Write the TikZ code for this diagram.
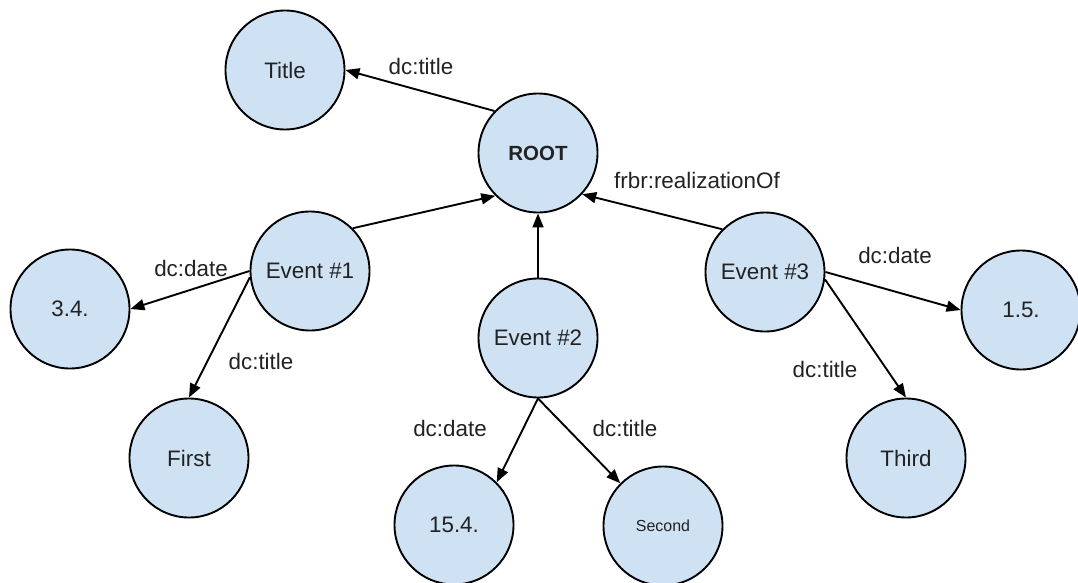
\documentclass[tikz,border=0pt]{standalone}
\usepackage{fontspec}
\setmainfont{Liberation Sans}
\usetikzlibrary{arrows.meta}
\definecolor{nodeblue}{HTML}{CFE2F3}
\definecolor{txt}{HTML}{222222}
\tikzset{
  ent/.style={circle, draw=black, fill=nodeblue, line width=1.9pt, minimum size=119pt, inner sep=0pt, text=txt, font=\fontsize{22.4}{26}\selectfont},
  lbl/.style={inner sep=0pt, text=txt, font=\fontsize{22.4}{26}\selectfont},
  link/.style={line width=1.9pt, -{Triangle[length=14pt,width=11pt]}}
}
\begin{document}
\begin{tikzpicture}[x=1pt,y=-1pt]
\useasboundingbox (0,0) rectangle (1078,583);
\node[ent] (title) at (285,70) {Title};
\node[ent, font=\fontsize{20.5}{24}\selectfont\bfseries] (root) at (538,153) {ROOT};
\node[ent] (e1) at (310,271) {Event \#1};
\node[ent] (e2) at (538,338) {Event \#2};
\node[ent] (e3) at (765,272) {Event \#3};
\node[ent] (d1) at (70,309) {3.4.};
\node[ent] (t1) at (189,458) {First};
\node[ent] (d2) at (454,525) {15.4.};
\node[ent, font=\fontsize{16}{19}\selectfont] (t2) at (663,526) {Second};
\node[ent] (d3) at (1021,310) {1.5.};
\node[ent] (t3) at (906,458) {Third};

\draw[link] (root.136) -- (title.east);
\draw[link] (e1.45) -- (root.225);
\draw[link] (e2.north) -- (root.south);
\draw[link] (e3.135) -- (root.317);
\draw[link] (e1.west) -- (d1.east);
\draw[link] (e1.186) -- (t1.north);
\draw[link] (e2.south) -- (d2.45);
\draw[link] (e2.south) -- (t2.135);
\draw[link] (e3.east) -- (d3.west);
\draw[link] (e3.353) -- (t3.north);

\node[lbl] (l1) at (421,66) {dc:title};
\node[lbl, anchor=west] (l2) at (614,180) {frbr:realizationOf};
\node[lbl] (l3) at (191,268) {dc:date};
\node[lbl] (l4) at (261,361) {dc:title};
\node[lbl] (l5) at (450,428) {dc:date};
\node[lbl] (l6) at (625,428) {dc:title};
\node[lbl] (l7) at (895,255) {dc:date};
\node[lbl] (l8) at (825,369) {dc:title};
\end{tikzpicture}
\end{document}
